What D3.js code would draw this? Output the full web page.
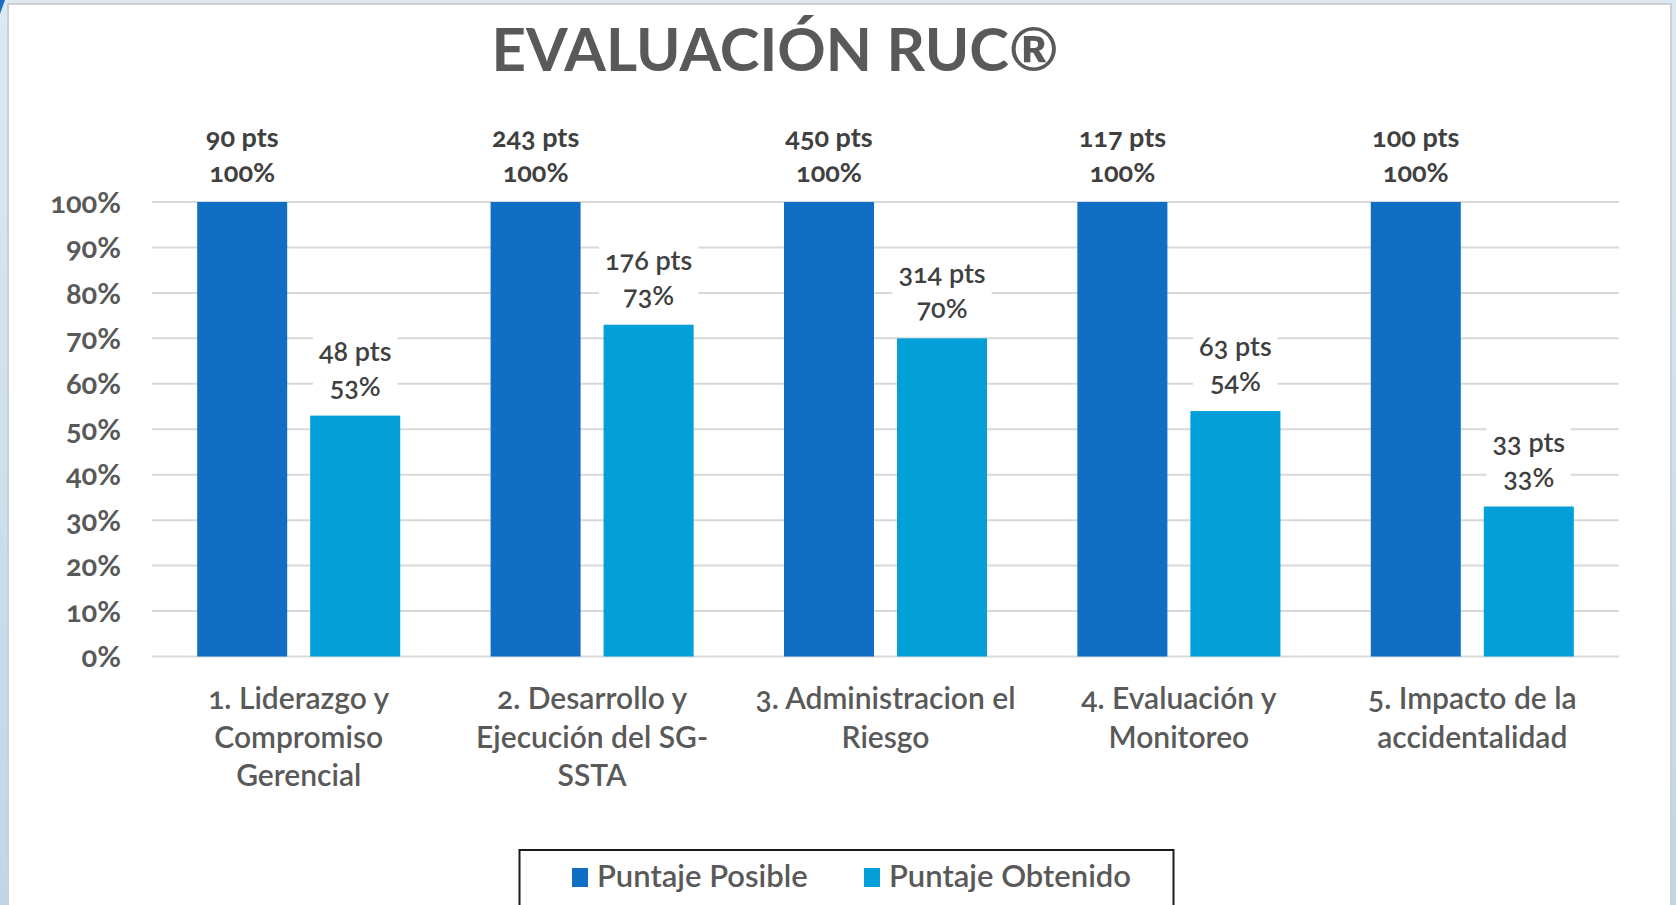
<!DOCTYPE html>
<html><head><meta charset="utf-8">
<script src="https://cdn.jsdelivr.net/npm/d3@7"></script>
<style>
html,body{margin:0;padding:0;background:#ffffff;}
svg text{font-family:Lato,"Open Sans",sans-serif;font-variant-numeric:oldstyle-nums;}
</style></head>
<body>
<svg id="chart" width="1676" height="905"></svg>
<script>
const title = "EVALUACIÓN RUC®";
const categories = [
  ["1. Liderazgo y","Compromiso","Gerencial"],
  ["2. Desarrollo y","Ejecución del SG-","SSTA"],
  ["3. Administracion el","Riesgo"],
  ["4. Evaluación y","Monitoreo"],
  ["5. Impacto de la","accidentalidad"]
];
const seriesNames = ["Puntaje Posible","Puntaje Obtenido"];
const puntajePosible = [90, 243, 450, 117, 100];
const puntajeObtenido = [48, 176, 314, 63, 33];
const porcentajePosible = [1.00, 1.00, 1.00, 1.00, 1.00];
const porcentajeObtenido = [0.53, 0.73, 0.70, 0.54, 0.33];
const yTicks = [0, 0.1, 0.2, 0.3, 0.4, 0.5, 0.6, 0.7, 0.8, 0.9, 1.0];
const colors = ["#106ec4", "#029fd8"];

const svg = d3.select("#chart");
const W = 1676, H = 905;

// slide background
const defs = svg.append("defs");
const lg = defs.append("linearGradient").attr("id","bgL").attr("x1",0).attr("y1",0).attr("x2",0).attr("y2",1);
lg.append("stop").attr("offset","0%").attr("stop-color","#dce9f3");
lg.append("stop").attr("offset","100%").attr("stop-color","#bdd7e9");
svg.append("rect").attr("width",W).attr("height",H).attr("fill","url(#bgL)");
svg.append("path").attr("d","M0,0 L5,0 L0,14 Z").attr("fill","#1f6fc0");
svg.append("rect").attr("x",8).attr("y",4).attr("width",1663).attr("height",H)
  .attr("fill","#ffffff").attr("stroke","#cfcfcf").attr("stroke-width",2);

const plot = {left:152, right:1619, top:202, bottom:656.5};

const x0 = d3.scaleBand().domain(d3.range(categories.length)).range([plot.left, plot.right]).paddingInner(0.308).paddingOuter(0.154);
const x1 = d3.scaleBand().domain([0,1]).range([0, x0.bandwidth()]).paddingInner(0.2035);
const y = d3.scaleLinear().domain([0,1]).range([plot.bottom, plot.top]);

// gridlines
svg.append("g").selectAll("line").data(yTicks).join("line")
  .attr("x1",plot.left).attr("x2",plot.right)
  .attr("y1",d=>y(d)).attr("y2",d=>y(d))
  .attr("stroke","#d9d9d9").attr("stroke-width",2);

// y axis labels
const yAxis = d3.axisLeft(y).tickValues(yTicks).tickFormat(d3.format(".0%")).tickSize(0).tickPadding(31);
const ga = svg.append("g").attr("transform",`translate(${plot.left},0)`).call(yAxis);
ga.select(".domain").remove();
ga.selectAll("text").attr("font-size",29).attr("font-weight","bold").attr("fill","#595959").attr("dy","0.35em");

// title
svg.append("text").attr("x",775).attr("y",71).attr("text-anchor","middle")
  .attr("font-size",60).attr("font-weight","bold").attr("fill","#595959").text(title);

const data = categories.map((c,i)=>({i, vals:[
  {s:0, pts:puntajePosible[i], pct:porcentajePosible[i]},
  {s:1, pts:puntajeObtenido[i], pct:porcentajeObtenido[i]}
]}));

const groups = svg.append("g").selectAll("g").data(data).join("g")
  .attr("transform",d=>`translate(${x0(d.i)},0)`);

groups.selectAll("rect").data(d=>d.vals).join("rect")
  .attr("x",d=>x1(d.s)).attr("width",x1.bandwidth())
  .attr("y",d=>y(d.pct)).attr("height",d=>y(0)-y(d.pct))
  .attr("fill",d=>colors[d.s]);

// data labels
const lab = groups.selectAll("g.lab").data(d=>d.vals).join("g").attr("class","lab")
  .attr("transform",d=>`translate(${x1(d.s)+x1.bandwidth()/2},${y(d.pct)})`);
lab.each(function(d){
  const g = d3.select(this);
  const bg = g.append("rect").attr("fill","#ffffff");
  const t1 = g.append("text").attr("text-anchor","middle").attr("y",-55)
    .attr("font-size",27).attr("font-weight", d.s===0 ? "bold" : "600").attr("fill","#404040")
    .text(d.pts + " pts");
  const t2 = g.append("text").attr("text-anchor","middle").attr("y",-20)
    .attr("font-size",27).attr("font-weight", d.s===0 ? "bold" : "600").attr("fill","#404040")
    .text(d3.format(".0%")(d.pct));
  const w = Math.max(t1.node().getComputedTextLength(), t2.node().getComputedTextLength()) + 12;
  bg.attr("x",-w/2).attr("y",-80).attr("width",w).attr("height",72);
});

// category labels
const cl = svg.append("g").selectAll("text").data(categories).join("text")
  .attr("text-anchor","middle").attr("font-size",30).attr("font-weight","600").attr("fill","#595959")
  .attr("x",(d,i)=>x0(i)+x0.bandwidth()/2).attr("y",709);
cl.selectAll("tspan").data(d=>d).join("tspan")
  .attr("x",function(){return this.parentNode.getAttribute("x");})
  .attr("dy",(d,i)=>i===0?0:38.5).text(d=>d);

// legend
svg.append("rect").attr("x",519.5).attr("y",850).attr("width",654).attr("height",58)
  .attr("fill","#ffffff").attr("stroke","#1a1a1a").attr("stroke-width",2);
const legX = [572, 864];
const leg = svg.append("g").selectAll("g").data(seriesNames).join("g")
  .attr("transform",(d,i)=>`translate(${legX[i]},868)`);
leg.append("rect").attr("width",16).attr("height",19).attr("fill",(d,i)=>colors[i]);
leg.append("text").attr("x",25).attr("y",19).attr("font-size",31).attr("font-weight","600").attr("fill","#595959").text(d=>d);
</script>
</body></html>
